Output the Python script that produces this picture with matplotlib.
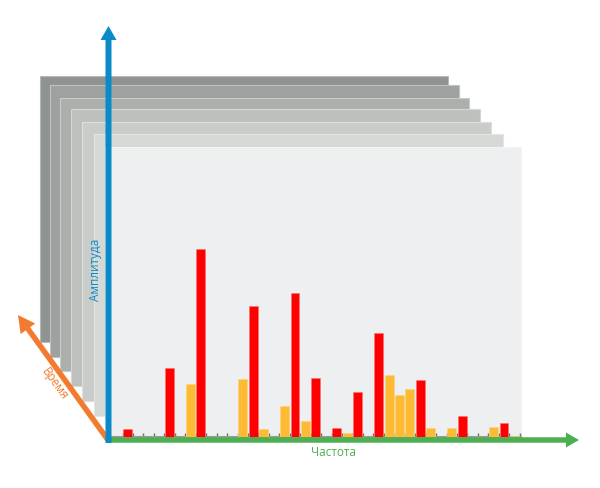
import matplotlib
matplotlib.use("Agg")
import matplotlib.pyplot as plt
from matplotlib.patches import Rectangle, FancyArrow
from matplotlib.colors import to_rgb

plt.rcParams['font.family'] = ['Open Sans', 'DejaVu Sans']

# frequency slots (index along the frequency axis) and amplitudes
red_slots = [0, 4, 7, 12, 16, 18, 20, 22, 24, 28, 32, 36]
red_amps = [8, 69, 188, 131, 144, 59, 9, 45, 104, 57, 21, 14]
yellow_slots = [6, 11, 13, 15, 17, 21, 25, 26, 27, 29, 31, 35, 37]
yellow_amps = [53, 58, 8, 31, 16, 4, 62, 42, 48, 9, 9, 10, 1]
n_slots = 38

# stacked "time" frames behind the front one (left, top, right, bottom in px)
frames = [
    (40, 77, 448, 343, '#8f9391'),
    (50, 86, 459, 358, '#9da19f'),
    (60, 99, 469, 372, '#acb0ad'),
    (71, 110, 480, 387, '#bdc1be'),
    (82, 123, 491, 402, '#c9cdca'),
    (94, 135, 503, 417, '#d5d9d6'),
    (105, 148, 521, 437, '#edeff1'),
]

W, H = 600, 489
fig = plt.figure(figsize=(6, 4.89), dpi=100)

# background layer in pixel coordinates
bg = fig.add_axes([0, 0, 1, 1])
bg.set_xlim(0, W)
bg.set_ylim(H, 0)
bg.axis('off')
for l, t, r, b, c in frames:
    edge = tuple(v + (1 - v) * 0.35 for v in to_rgb(c))
    bg.add_patch(Rectangle((l, t), r - l, b - t, facecolor=c,
                           edgecolor=edge, lw=0.8))

# bar axes sitting on the front frame
x0, x1 = 105, 521
base, top = 437.5, 148
step = 10.45
c0 = 127.8
ax = fig.add_axes([x0 / W, (H - base) / H, (x1 - x0) / W, (base - top) / H])
ax.patch.set_alpha(0)
ax.set_xlim((x0 - c0) / step, (x1 - c0) / step)
ax.set_ylim(0, base - top)
ax.bar(red_slots, red_amps, width=0.86, color='#ff0000',
       edgecolor='#ff7070', linewidth=0.4, zorder=3)
ax.bar(yellow_slots, yellow_amps, width=0.86, color='#fcbb32',
       edgecolor='#fdd27a', linewidth=0.4, zorder=3)
for s in ['top', 'right', 'left']:
    ax.spines[s].set_visible(False)
ax.spines['bottom'].set_color('#9a9a9a')
ax.spines['bottom'].set_linewidth(1.5)
ax.set_xticks([i - 0.5 for i in range(n_slots + 1)])
ax.tick_params(axis='x', direction='in', length=3, width=1,
               color='#6f6f6f', labelbottom=False)
ax.set_yticks([])

# axes arrows and labels on top
fg = fig.add_axes([0, 0, 1, 1])
fg.patch.set_alpha(0)
fg.set_xlim(0, W)
fg.set_ylim(H, 0)
fg.axis('off')

fg.add_patch(FancyArrow(108, 441, 18 - 108, 316 - 441, width=5.5,
                        head_width=18, head_length=17,
                        length_includes_head=True, color='#f27b2f', lw=0))
fg.add_patch(FancyArrow(106, 441, 579 - 106, 0, width=5.5,
                        head_width=15, head_length=13,
                        length_includes_head=True, color='#4caf50', lw=0))
fg.add_patch(FancyArrow(108.5, 444, 0, 27 - 444, width=6,
                        head_width=16, head_length=14,
                        length_includes_head=True, color='#0b8ac9', lw=0))

fg.text(95, 270, 'Амплитуда', color='#0b8ac9', fontsize=8.5,
        rotation=90, ha='center', va='center')
fg.text(333, 452, 'Частота', color='#4caf50', fontsize=8.5,
        ha='center', va='center')
fg.text(55, 384, 'Время', color='#f27b2f', fontsize=8.5,
        rotation=-54.5, ha='center', va='center', rotation_mode='anchor')

fig.savefig('out.png', dpi=100)
